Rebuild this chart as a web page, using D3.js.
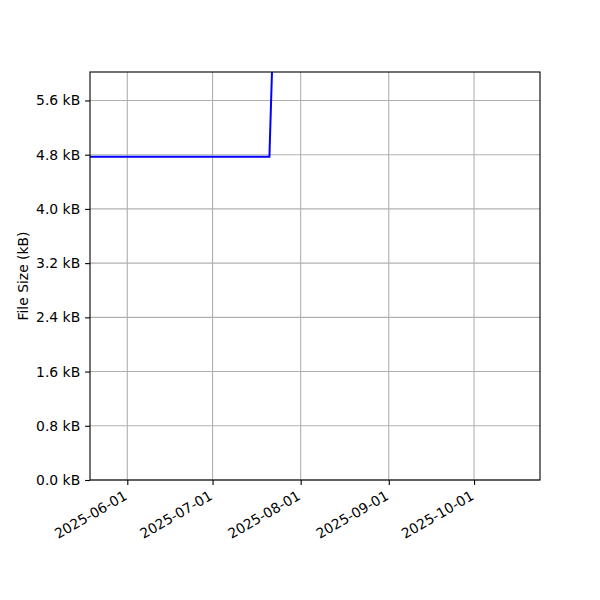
<!DOCTYPE html>
<head>
<meta charset="utf-8">
<script src="https://d3js.org/d3.v7.min.js"></script>
<style>
  body { margin: 0; background: #fff; }
  svg text { font-family: "DejaVu Sans", sans-serif; font-size: 13.9px; fill: #000; }
</style>
</head>
<body>
<div id="chart"></div>
<script>
// data
var dates = ["2025-05-15", "2025-07-21", "2025-07-22"];
var sizes = [4.77, 4.77, 6.15];   // kB
var yTicks = [0, 0.8, 1.6, 2.4, 3.2, 4.0, 4.8, 5.6];
var xTicks = ["2025-06-01", "2025-07-01", "2025-08-01", "2025-09-01", "2025-10-01"];
var xRange = ["2025-05-18T21:00", "2025-10-24T05:00"];
var yMax = 6.02;

var W = 600, H = 600;
var margin = {top: 72, right: 60, bottom: 120, left: 90},
    width = W - margin.left - margin.right,
    height = H - margin.top - margin.bottom;

var parse = function(s) { return new Date(s + (s.length > 10 ? ":00Z" : "T00:00:00Z")); };
var data = dates.map(function(d, i) { return {date: parse(d), size: sizes[i]}; });

var svg = d3.select("#chart").append("svg")
    .attr("width", W).attr("height", H)
  .append("g")
    .attr("transform", "translate(" + margin.left + "," + margin.top + ")");

var x = d3.scaleUtc().domain(xRange.map(parse)).range([0, width]);
var y = d3.scaleLinear().domain([0, yMax]).range([height, 0]);

// grid
svg.append("g").selectAll("line").data(xTicks.map(parse)).enter().append("line")
    .attr("x1", function(d) { return x(d); }).attr("x2", function(d) { return x(d); })
    .attr("y1", 0).attr("y2", height)
    .attr("stroke", "#b0b0b0").attr("stroke-width", 1.1);
svg.append("g").selectAll("line").data(yTicks).enter().append("line")
    .attr("y1", function(d) { return y(d); }).attr("y2", function(d) { return y(d); })
    .attr("x1", 0).attr("x2", width)
    .attr("stroke", "#b0b0b0").attr("stroke-width", 1.1);

svg.append("clipPath").attr("id", "clip")
  .append("rect").attr("width", width).attr("height", height);

svg.append("path")
    .datum(data)
    .attr("clip-path", "url(#clip)")
    .attr("fill", "none")
    .attr("stroke", "#0000ff")
    .attr("stroke-width", 2)
    .attr("d", d3.line().x(function(d) { return x(d.date); }).y(function(d) { return y(d.size); }));

// axes
var xAxis = svg.append("g")
    .attr("transform", "translate(0," + height + ")")
    .call(d3.axisBottom(x).tickValues(xTicks.map(parse)).tickSize(4.9).tickPadding(4.9)
      .tickFormat(d3.utcFormat("%Y-%m-%d")));
xAxis.selectAll("text")
    .style("text-anchor", "end")
    .attr("dy", "0.35em")
    .attr("transform", "translate(-7,6) rotate(-30)");

var yAxis = svg.append("g")
    .call(d3.axisLeft(y).tickValues(yTicks).tickSize(4.9).tickPadding(4.9)
      .tickFormat(function(d) { return d3.format(".1f")(d) + " kB"; }));

svg.selectAll(".domain").remove();
svg.selectAll(".tick line").attr("stroke", "#000").attr("stroke-width", 1.1);
svg.selectAll(".tick text")
    .attr("font-family", "DejaVu Sans, sans-serif")
    .attr("font-size", "13.9px");

svg.append("rect")
    .attr("width", width).attr("height", height)
    .attr("fill", "none").attr("stroke", "#000").attr("stroke-width", 1.1);

svg.append("text")
    .attr("transform", "translate(" + (-62) + "," + (height / 2) + ") rotate(-90)")
    .style("text-anchor", "middle")
    .text("File Size (kB)");
</script>
</body>
